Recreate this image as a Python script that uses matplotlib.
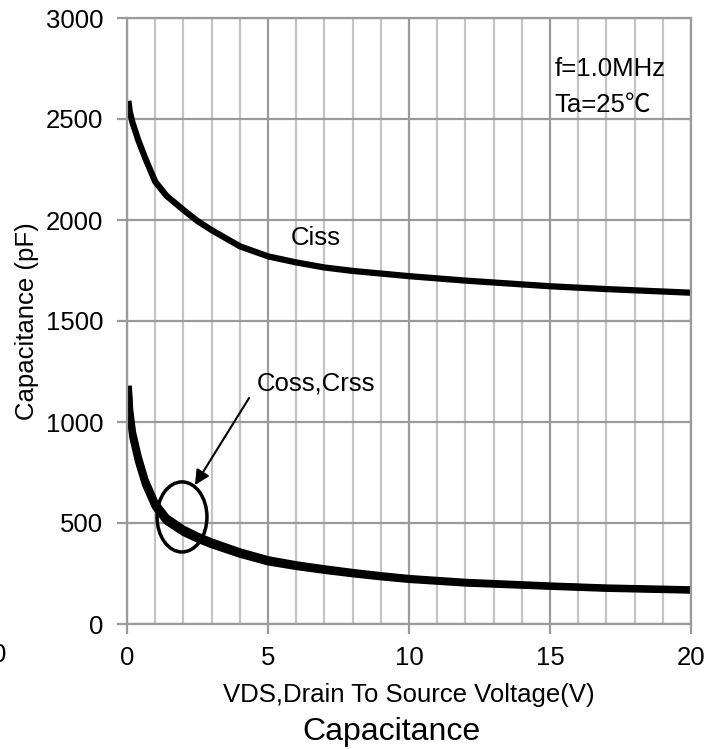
import numpy as np
import matplotlib.pyplot as plt
from matplotlib.patches import Ellipse

plt.rcParams['font.family'] = ['Liberation Sans', 'DejaVu Sans']

vds = [0.05, 0.1, 0.2, 0.4, 0.65, 1, 1.4, 2, 2.5, 3, 4, 5, 6, 7, 8, 9, 10, 12, 15, 17, 20]
ciss = [2590, 2535, 2480, 2395, 2305, 2190, 2120, 2050, 1995, 1950, 1870, 1820, 1790, 1765, 1748, 1735, 1722, 1700, 1672, 1658, 1640]
coss = [1180, 1060, 950, 830, 712, 600, 527, 470, 436, 407, 358, 319, 294, 274, 256, 240, 226, 207, 189, 179, 170]
crss = [1160, 1035, 925, 805, 690, 580, 508, 453, 420, 392, 345, 307, 284, 265, 248, 233, 220, 202, 186, 176, 167]

xticks = [0, 5, 10, 15, 20]
yticks = [0, 500, 1000, 1500, 2000, 2500, 3000]

fig = plt.figure(figsize=(7.2, 7.49), dpi=100)
ax = fig.add_axes([127/720, 1-624/749, 564/720, 606/749])

major = '#9a9a9a'
minor = '#c4c4c4'
fs = 18.5

ax.set_xlim(0, 20)
ax.set_ylim(0, 3000)
ax.set_xticks(xticks)
ax.set_yticks(yticks)
ax.set_xticks(np.arange(0, 21, 1), minor=True)
ax.grid(True, which='major', color=major, lw=1.6)
ax.grid(True, which='minor', axis='x', color=minor, lw=1.6)
ax.set_axisbelow(True)
ax.tick_params(which='major', length=7, width=1.6, color=major, labelsize=fs)
ax.tick_params(axis='y', pad=10)
ax.tick_params(axis='x', pad=9)
ax.tick_params(which='minor', length=0)
for s in ax.spines.values():
    s.set_color(major)
    s.set_linewidth(1.6)

ax.plot(vds, ciss, color='black', lw=4.5, solid_capstyle='butt')
ax.plot(vds, coss, color='black', lw=5, solid_capstyle='butt')
ax.plot(vds, crss, color='black', lw=5, solid_capstyle='butt')

ax.text(6.7, 1911, 'Ciss', fontsize=fs, ha='center', va='center')
ax.text(6.7, 1193, 'Coss,Crss', fontsize=fs, ha='center', va='center')
ax.annotate('', xy=(2.41, 688), xytext=(4.33, 1119),
            arrowprops=dict(arrowstyle='-|>', color='black', lw=1.5,
                            mutation_scale=22, shrinkA=0, shrinkB=0))
ax.add_patch(Ellipse((1.95, 530), 1.77, 347, fill=False, ec='black', lw=2.5))

ax.text(15.15, 2750, 'f=1.0MHz', fontsize=fs, ha='left', va='center')
ax.text(15.15, 2570, 'Ta=25℃', fontsize=fs, ha='left', va='center',
        family=['Liberation Sans', 'Noto Sans CJK SC', 'DejaVu Sans'])

ax.set_xlabel('VDS,Drain To Source Voltage(V)', fontsize=fs, labelpad=9)
ax.set_ylabel('Capacitance (pF)', fontsize=fs, labelpad=5)
fig.text(391/720, 1-740/749, 'Capacitance', fontsize=23, ha='center', va='baseline')
fig.text(6/720, 1-655/749, '0', fontsize=fs, ha='right', va='center')

fig.savefig('out.png', dpi=100)
